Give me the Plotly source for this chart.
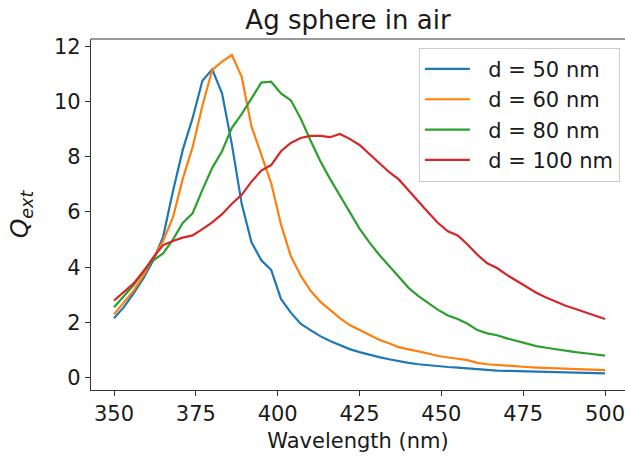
import plotly.graph_objects as go

wavelength = list(range(350, 501, 3))

q_50 = [2.15, 2.55, 3.05, 3.6, 4.25, 5.1, 6.75, 8.25, 9.4, 10.76, 11.17, 10.3, 8.45,
        6.3, 4.9, 4.25, 3.9, 2.85, 2.35, 1.95, 1.72, 1.5, 1.32, 1.17, 1.03, 0.92, 0.82,
        0.74, 0.66, 0.59, 0.53, 0.48, 0.44, 0.41, 0.38, 0.36, 0.33, 0.3, 0.27, 0.25,
        0.24, 0.23, 0.22, 0.21, 0.2, 0.19, 0.18, 0.17, 0.17, 0.16, 0.15]
q_60 = [2.29, 2.7, 3.15, 3.7, 4.3, 4.95, 5.8, 7.2, 8.35, 9.85, 11.15, 11.45, 11.69,
        10.9, 9.1, 8.1, 7.05, 5.55, 4.4, 3.7, 3.15, 2.75, 2.45, 2.15, 1.9, 1.72, 1.52,
        1.37, 1.24, 1.1, 1.02, 0.95, 0.87, 0.78, 0.74, 0.68, 0.63, 0.53, 0.48, 0.45,
        0.42, 0.4, 0.38, 0.36, 0.35, 0.33, 0.31, 0.3, 0.29, 0.28, 0.27]
q_80 = [2.55, 2.95, 3.35, 3.85, 4.25, 4.5, 5.0, 5.6, 5.95, 6.8, 7.6, 8.2, 9.05,
        9.55, 10.1, 10.69, 10.72, 10.3, 10.05, 9.4, 8.6, 7.85, 7.2, 6.6, 5.95, 5.4, 4.9,
        4.45, 4.05, 3.65, 3.25, 2.95, 2.7, 2.45, 2.25, 2.12, 1.95, 1.72, 1.6, 1.53,
        1.42, 1.32, 1.22, 1.14, 1.08, 1.02, 0.97, 0.92, 0.88, 0.83, 0.79]
q_100 = [2.79, 3.1, 3.41, 3.85, 4.35, 4.8, 4.95, 5.07, 5.15, 5.38, 5.62, 5.92, 6.3,
         6.62, 7.1, 7.5, 7.7, 8.2, 8.5, 8.68, 8.76, 8.76, 8.71, 8.83, 8.65, 8.43, 8.1,
         7.8, 7.45, 7.18, 6.8, 6.38, 5.98, 5.6, 5.3, 5.15, 4.82, 4.45, 4.14, 3.97,
         3.72, 3.5, 3.3, 3.07, 2.9, 2.74, 2.6, 2.48, 2.36, 2.25, 2.12]

series_names = ["d = 50 nm", "d = 60 nm", "d = 80 nm", "d = 100 nm"]
series_values = [q_50, q_60, q_80, q_100]
colors = ["#1f77b4", "#ff7f0e", "#2ca02c", "#d62728"]

x_ticks = [350, 375, 400, 425, 450, 475, 500]
y_ticks = [0, 2, 4, 6, 8, 10, 12]

FONT = "DejaVu Sans"
TXT = "#1a1a1a"

fig = go.Figure()
for name, vals, col in zip(series_names, series_values, colors):
    fig.add_trace(go.Scatter(x=wavelength, y=vals, mode="lines",
                             name="\u00a0\u00a0" + name,
                             legendgroup=name,
                             line=dict(color=col, width=2.2)))

fig.update_layout(
    width=625, height=459,
    margin=dict(l=91, r=0, t=39, b=69),
    paper_bgcolor="white", plot_bgcolor="white",
    font=dict(family=FONT, color=TXT, size=21),
    title=dict(text="Ag sphere in air", x=348 / 625, xanchor="center",
               y=1 - 20 / 459, yanchor="middle", xref="container", yref="container",
               font=dict(family=FONT, size=26, color=TXT)),
    showlegend=True,
    legend=dict(x=0.614, y=0.975, xanchor="left", yanchor="top",
                bgcolor="rgba(255,255,255,0.8)", bordercolor="#cccccc", borderwidth=1,
                font=dict(family=FONT, size=21, color=TXT),
                itemwidth=45, tracegroupgap=7, traceorder="normal"),
    xaxis=dict(range=[342.97, 506.1], tickvals=x_ticks, ticks="outside", ticklen=5,
               tickwidth=1, tickcolor="#333333", showline=True, linecolor="#333333",
               linewidth=1.2, showgrid=False, zeroline=False,
               ticklabeloverflow="allow",
               tickfont=dict(family=FONT, size=21, color=TXT),
               title=dict(text="Wavelength (nm)", standoff=8,
                          font=dict(family=FONT, size=21, color=TXT))),
    yaxis=dict(range=[-0.453, 12.27], tickvals=y_ticks, ticks="outside", ticklen=5,
               tickwidth=1, tickcolor="#333333", showline=True, linecolor="#333333",
               linewidth=1.2, showgrid=False, zeroline=False,
               tickfont=dict(family=FONT, size=21, color=TXT),
               title=dict(text="<i>Q</i><sub><i>ext</i></sub>", standoff=18,
                          font=dict(family=FONT, size=25, color=TXT))),
)
# top spine
fig.add_shape(type="line", xref="paper", yref="paper", x0=0, x1=1, y0=1, y1=1,
              line=dict(color="#333333", width=1.2))

fig.write_html("out.html")
